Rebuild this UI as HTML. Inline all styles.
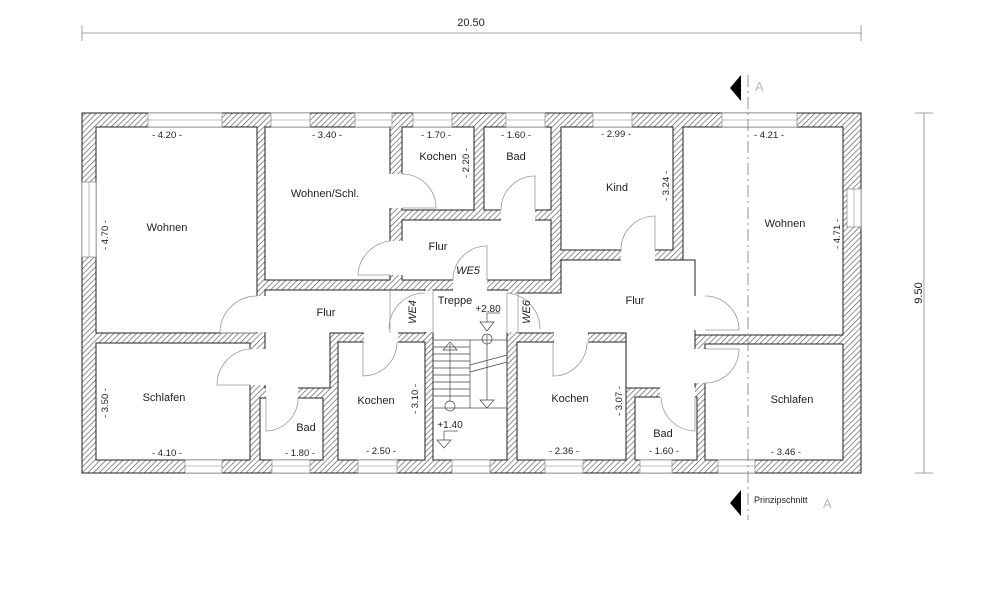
<!DOCTYPE html>
<html><head><meta charset="utf-8"><style>
html,body{margin:0;padding:0;background:#fff}
svg{display:block}
text{font-family:"Liberation Sans",sans-serif;fill:#222}
</style></head><body>
<svg width="999" height="590" viewBox="0 0 999 590" xmlns="http://www.w3.org/2000/svg">
<defs>
<pattern id="h" width="4" height="4" patternUnits="userSpaceOnUse" patternTransform="rotate(45)">
<rect width="4" height="4" fill="#fff"/><line x1="0" y1="0" x2="0" y2="4" stroke="#555" stroke-width="1.3"/>
</pattern>
</defs>
<!-- top dimension -->
<line x1="82" y1="33" x2="861" y2="33" stroke="#888" stroke-width="0.8"/>
<line x1="82" y1="25" x2="82" y2="41" stroke="#888" stroke-width="0.8"/>
<line x1="861" y1="25" x2="861" y2="41" stroke="#888" stroke-width="0.8"/>
<text x="471" y="26" font-size="11" text-anchor="middle">20.50</text>
<!-- right dimension -->
<line x1="924" y1="113" x2="924" y2="473" stroke="#888" stroke-width="0.8"/>
<line x1="915" y1="113" x2="933" y2="113" stroke="#888" stroke-width="0.8"/>
<line x1="915" y1="473" x2="933" y2="473" stroke="#888" stroke-width="0.8"/>
<text transform="translate(922,293) rotate(-90)" font-size="11" text-anchor="middle">9.50</text>

<!-- building -->
<rect x="82" y="113" width="779" height="360" fill="url(#h)" stroke="#222" stroke-width="1"/>
<g fill="#fff" stroke="#222" stroke-width="1">
<rect x="96" y="127" width="161" height="206"/>
<rect x="265" y="127" width="125" height="153"/>
<rect x="96" y="343" width="154" height="117"/>
<rect x="260" y="398" width="63" height="62"/>
<rect x="338" y="342" width="87" height="118"/>
<rect x="402" y="127" width="72" height="83"/>
<rect x="484" y="127" width="67" height="83"/>
<rect x="402" y="220" width="149" height="60"/>
<rect x="561" y="127" width="112" height="123"/>
<rect x="683" y="127" width="160" height="208"/>
<rect x="705" y="344" width="138" height="116"/>
<rect x="517" y="342" width="109" height="118"/>
<rect x="635" y="397" width="62" height="63"/>
<rect x="433" y="290" width="74" height="170"/>
</g>
<!-- flur left -->
<path d="M265,290 H425 V333 H330 V388 H265 Z" fill="#fff" stroke="#222"/>
<!-- flur right -->
<path d="M518,293 H561 V260 H695 V388 H626 V333 H518 Z" fill="#fff" stroke="#222"/>
<!-- openings (white gaps) -->
<g fill="#fff" stroke="none">
<rect x="256" y="296" width="10" height="36"/>
<rect x="249" y="349" width="17" height="36"/>
<rect x="266" y="387" width="32" height="12"/>
<rect x="364" y="332" width="34" height="11"/>
<rect x="389" y="241" width="14" height="34"/>
<rect x="389" y="174" width="14" height="34"/>
<rect x="501" y="209" width="34" height="12"/>
<rect x="453" y="279" width="34" height="12"/>
<rect x="621" y="249" width="34" height="12"/>
<rect x="554" y="332" width="34" height="11"/>
<rect x="660" y="387" width="35" height="11"/>
<rect x="694" y="296" width="12" height="34"/>
<rect x="694" y="349" width="12" height="34"/>
<rect x="390" y="291" width="43" height="41"/>
<rect x="506" y="294" width="13" height="38"/>
<rect x="426" y="293" width="8" height="39"/>
<rect x="432" y="291" width="76" height="40"/>
</g>
<!-- doors -->
<g fill="none" stroke="#999" stroke-width="0.8">
<path d="M257,296 A37,37 0 0 0 220,333 H257"/>
<path d="M250,349 A36,36 0 0 0 217,385 H250"/>
<path d="M266,398 V431 A33,33 0 0 0 298,398"/>
<path d="M363,342 V376 A34,34 0 0 0 397,342"/>
<path d="M390,241 A36,36 0 0 0 358,275 H390"/>
<path d="M402,174 H402 A34,34 0 0 1 436,208 H402"/>
<path d="M501,210 A34,34 0 0 1 535,176 V210"/>
<path d="M453,280 A34,34 0 0 1 487,246 V280"/>
<path d="M621,250 A34,34 0 0 1 655,216 V250"/>
<path d="M553,342 V376 A34,34 0 0 0 587,342"/>
<path d="M661,397 A35,35 0 0 0 695,431 V397"/>
<path d="M705,296 A34,34 0 0 1 739,330 H705"/>
<path d="M705,383 A34,34 0 0 0 739,349 H705"/>
<path d="M425,293 A36,36 0 0 0 389,329"/>
<path d="M507,293 A36,36 0 0 1 540,329"/>
<line x1="390" y1="290" x2="390" y2="333"/><line x1="433" y1="290" x2="433" y2="333"/>
<line x1="507" y1="293" x2="507" y2="333"/><line x1="518" y1="293" x2="518" y2="333"/>
</g>
<!-- windows -->
<g fill="#fff" stroke="#888" stroke-width="0.7">
<rect x="148" y="113" width="74" height="14"/><rect x="271" y="113" width="39" height="14"/>
<rect x="355" y="113" width="37" height="14"/><rect x="413" y="113" width="39" height="14"/>
<rect x="506" y="113" width="39" height="14"/><rect x="593" y="113" width="39" height="14"/>
<rect x="722" y="113" width="75" height="14"/>
<rect x="82" y="182" width="14" height="75"/><rect x="847" y="189" width="14" height="38"/>
<rect x="185" y="460" width="37" height="13"/><rect x="272" y="460" width="38" height="13"/>
<rect x="358" y="460" width="39" height="13"/><rect x="452" y="460" width="38" height="13"/>
<rect x="545" y="460" width="38" height="13"/><rect x="640" y="460" width="32" height="13"/>
<rect x="718" y="460" width="37" height="13"/>
</g>
<g stroke="#888" stroke-width="0.6">
<line x1="148" y1="120" x2="222" y2="120"/><line x1="271" y1="120" x2="310" y2="120"/>
<line x1="355" y1="120" x2="392" y2="120"/><line x1="413" y1="120" x2="452" y2="120"/>
<line x1="506" y1="120" x2="545" y2="120"/><line x1="593" y1="120" x2="632" y2="120"/>
<line x1="722" y1="120" x2="797" y2="120"/>
<line x1="89" y1="182" x2="89" y2="257"/><line x1="854" y1="189" x2="854" y2="227"/>
<line x1="185" y1="466" x2="222" y2="466"/><line x1="272" y1="466" x2="310" y2="466"/>
<line x1="358" y1="466" x2="397" y2="466"/><line x1="452" y1="466" x2="490" y2="466"/>
<line x1="545" y1="466" x2="583" y2="466"/><line x1="640" y1="466" x2="672" y2="466"/>
<line x1="718" y1="466" x2="755" y2="466"/>
</g>
<!-- stairs -->
<g fill="none" stroke="#444" stroke-width="0.7">
<rect x="433" y="340" width="74" height="68"/>
<line x1="470" y1="340" x2="470" y2="408"/>
<line x1="433" y1="347" x2="470" y2="347"/><line x1="433" y1="354" x2="470" y2="354"/>
<line x1="433" y1="361" x2="470" y2="361"/><line x1="433" y1="368" x2="470" y2="368"/>
<line x1="433" y1="375" x2="470" y2="375"/><line x1="433" y1="382" x2="470" y2="382"/>
<line x1="433" y1="389" x2="470" y2="389"/><line x1="433" y1="396" x2="470" y2="396"/>
<line x1="470" y1="365" x2="507" y2="355"/><line x1="470" y1="372" x2="507" y2="362"/>
<line x1="450" y1="344" x2="450" y2="401"/><path d="M443,350 L450,342 L457,350 Z"/>
<circle cx="450" cy="406" r="5"/>
<line x1="487" y1="335" x2="487" y2="400"/><circle cx="487" cy="339" r="5"/>
<path d="M480,400 H494 L487,408 Z"/>
<path d="M480,322 H494 L487,331 Z"/><line x1="487" y1="313" x2="487" y2="322"/><line x1="487" y1="313" x2="500" y2="313"/>
<path d="M437,440 H451 L444,448 Z"/><line x1="444" y1="431" x2="444" y2="440"/><line x1="444" y1="431" x2="458" y2="431"/>
</g>
<!-- section line -->
<line x1="748" y1="75" x2="748" y2="520" stroke="#777" stroke-width="0.8" stroke-dasharray="12,4,2,4"/>
<path d="M741,75 L730,88 L741,101 Z" fill="#000"/>
<path d="M741,490 L730,503 L741,516 Z" fill="#000"/>
<text x="755" y="91" font-size="13" style="fill:#bbb">A</text>
<text x="823" y="508" font-size="13" style="fill:#bbb">A</text>
<text x="754" y="503" font-size="9">Prinzipschnitt</text>
<!-- labels -->
<g font-size="11" text-anchor="middle">
<text x="167" y="231">Wohnen</text>
<text x="325" y="197">Wohnen/Schl.</text>
<text x="438" y="160">Kochen</text>
<text x="516" y="160">Bad</text>
<text x="617" y="191">Kind</text>
<text x="785" y="227">Wohnen</text>
<text x="438" y="250">Flur</text>
<text x="326" y="316">Flur</text>
<text x="635" y="304">Flur</text>
<text x="455" y="304">Treppe</text>
<text x="164" y="401">Schlafen</text>
<text x="306" y="431">Bad</text>
<text x="376" y="404">Kochen</text>
<text x="570" y="402">Kochen</text>
<text x="663" y="437">Bad</text>
<text x="792" y="403">Schlafen</text>
<text x="488" y="312" font-size="10">+2.80</text>
<text x="450" y="428" font-size="10">+1.40</text>
</g>
<g font-size="11" font-style="italic" text-anchor="middle">
<text x="468" y="274">WE5</text>
<text transform="translate(416,312) rotate(-90)">WE4</text>
<text transform="translate(530,312) rotate(-90)">WE6</text>
</g>
<g font-size="9.5" text-anchor="middle">
<text x="167" y="138">- 4.20 -</text>
<text x="327" y="138">- 3.40 -</text>
<text x="436" y="138">- 1.70 -</text>
<text x="516" y="138">- 1.60 -</text>
<text x="616" y="137">- 2.99 -</text>
<text x="769" y="138">- 4.21 -</text>
<text x="167" y="456">- 4.10 -</text>
<text x="300" y="456">- 1.80 -</text>
<text x="381" y="454">- 2.50 -</text>
<text x="564" y="454">- 2.36 -</text>
<text x="664" y="454">- 1.60 -</text>
<text x="786" y="455">- 3.46 -</text>
<text transform="translate(108,235) rotate(-90)">- 4.70 -</text>
<text transform="translate(108,403) rotate(-90)">- 3.50 -</text>
<text transform="translate(469,163) rotate(-90)">- 2.20 -</text>
<text transform="translate(669,186) rotate(-90)">- 3.24 -</text>
<text transform="translate(840,234) rotate(-90)">- 4.71 -</text>
<text transform="translate(418,399) rotate(-90)">- 3.10 -</text>
<text transform="translate(622,401) rotate(-90)">- 3.07 -</text>
</g>
</svg>
</body></html>
